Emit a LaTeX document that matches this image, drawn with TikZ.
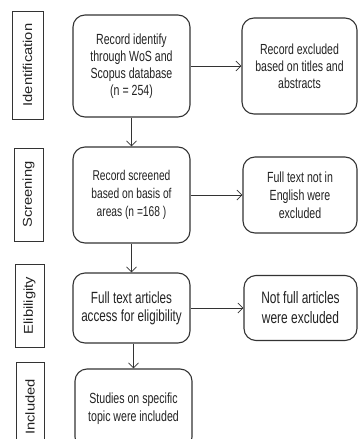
\documentclass[tikz,border=0pt]{standalone}
\usepackage{fontspec}
\setmainfont{Liberation Sans}[FakeStretch=0.72]
\newfontfamily\labfont{Liberation Sans}[FakeStretch=1.15]
\usetikzlibrary{arrows.meta}
\definecolor{ln}{HTML}{333333}
\definecolor{tx}{HTML}{222222}
\tikzset{
  stage/.style={draw=ln, line width=1.1pt, rounded corners=12pt, align=center, text=tx, inner sep=1pt},
  lab/.style={draw=ln, line width=0.9pt, rotate=90, inner sep=0pt, text=tx, font=\labfont\fontsize{12.8}{15}\selectfont},
  arr/.style={draw=ln, line width=0.7pt, -{Straight Barb[length=5pt,width=10pt]}}
}
\begin{document}
\begin{tikzpicture}[x=1pt,y=-1pt]
\useasboundingbox (0,0) rectangle (358,439);
\clip (0,0) rectangle (358,439);
% stage labels
\node[lab, minimum width=108pt, minimum height=31pt] (l1) at (27.5,65) {Identification};
\node[lab, minimum width=93pt, minimum height=29pt] (l2) at (28.5,194.5) {Screening};
\node[lab, minimum width=83pt, minimum height=29pt] (l3) at (29.5,305.5) {Elibiligity};
\node[lab, minimum width=90pt, minimum height=28pt] (l4) at (30,407) {Included};
% main column
\node[stage, minimum width=117pt, minimum height=102pt, font=\fontsize{14.7}{17}\selectfont] (b1) at (131.5,66) {Record identify\\through WoS and\\Scopus database\\(n = 254)};
\node[stage, minimum width=117pt, minimum height=96pt, font=\fontsize{14.2}{18}\selectfont] (b2) at (131.5,195) {Record screened\\based on basis of\\areas (n =168 )};
\node[stage, minimum width=117pt, minimum height=70pt, font=\fontsize{16.2}{18}\selectfont] (b3) at (131.5,308) {Full text articles\\access for eligibility};
\node[stage, minimum width=117pt, minimum height=80pt, font=\fontsize{14.7}{18}\selectfont] (b4) at (133.5,409) {Studies on specific\\topic were included};
% exclusions
\node[stage, minimum width=115pt, minimum height=96pt, font=\fontsize{14.6}{17}\selectfont] (r1) at (299.5,66) {Record excluded\\based on titles and\\abstracts};
\node[stage, minimum width=114pt, minimum height=76pt, font=\fontsize{14.7}{18}\selectfont] (r2) at (300,195) {Full text not in\\English were\\excluded};
\node[stage, minimum width=113pt, minimum height=65pt, font=\fontsize{16.6}{20}\selectfont] (r3) at (300.5,308) {Not full articles\\were excluded};
% connectors
\draw[arr] (b1) -- (b2);
\draw[arr] (b2) -- (b3);
\draw[arr] (b3.south -| b4.north) -- (b4.north);
\draw[arr] (b1) -- (r1);
\draw[arr] (b2) -- (r2);
\draw[arr] (b3) -- (r3);
\end{tikzpicture}
\end{document}
